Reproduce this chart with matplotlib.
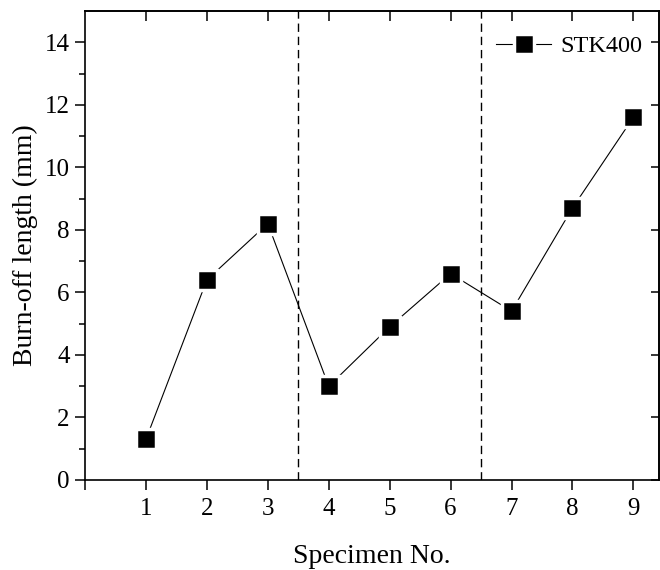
import matplotlib
matplotlib.use('Agg')
import matplotlib.pyplot as plt

plt.rcParams['font.family'] = ['Liberation Serif', 'DejaVu Serif']

# burn-off length per specimen
specimen = [1, 2, 3, 4, 5, 6, 7, 8, 9]
burn_off = [1.3, 6.4, 8.2, 3.0, 4.9, 6.6, 5.4, 8.7, 11.6]
series_name = 'STK400'

# dashed separators between specimen groups
group_bounds = [3.5, 6.5]

x_ticks = list(range(0, 10))
x_labels = [''] + [str(i) for i in range(1, 10)]
y_ticks = list(range(0, 15, 2))

fig = plt.figure(figsize=(6.6, 5.7), dpi=100)
ax = fig.add_axes([0.1288, 0.1579, 0.8697, 0.8228])

for xb in group_bounds:
    ax.axvline(xb, color='black', lw=1.0, linestyle=(0, (6, 3.5)), zorder=1)

# white marker edge leaves a small gap between the line and each square
ax.plot(specimen, burn_off, color='black', lw=0.8, marker='s',
        markersize=14.7, markerfacecolor='black', markeredgecolor='white',
        markeredgewidth=2.5, label=series_name, zorder=3)

ax.set_xlim(0, 9.42)
ax.set_ylim(0, 15)

ax.set_xticks(x_ticks)
ax.set_xticklabels(x_labels)
ax.set_yticks(y_ticks)
ax.set_yticks(range(1, 15, 2), minor=True)

ax.tick_params(axis='both', which='major', direction='out', labelsize=18,
               width=1.1, length=7, pad=4)
ax.tick_params(axis='y', which='minor', direction='out', width=1.1, length=4)
ax.tick_params(axis='x', which='major', length=7, pad=6)

for sp in ax.spines.values():
    sp.set_linewidth(1.2)

# top and right axes: inward ticks, no labels
top = ax.secondary_xaxis('top')
top.set_xticks(range(1, 10))
top.tick_params(direction='in', length=7, width=1.1, labeltop=False)
top.spines['top'].set_linewidth(1.2)

right = ax.secondary_yaxis('right')
right.set_yticks(y_ticks)
right.tick_params(direction='in', length=6, width=1.1, labelright=False)
right.spines['right'].set_linewidth(1.2)

ax.set_xlabel('Specimen No.', fontsize=20, labelpad=17)
ax.set_ylabel('Burn-off length (mm)', fontsize=20, labelpad=5)

ax.legend(loc='upper right', bbox_to_anchor=(1.0, 0.985), frameon=False,
          fontsize=17.5, handlelength=2.3, handletextpad=0.35,
          borderaxespad=0.3)

fig.savefig('out.png', dpi=100)
